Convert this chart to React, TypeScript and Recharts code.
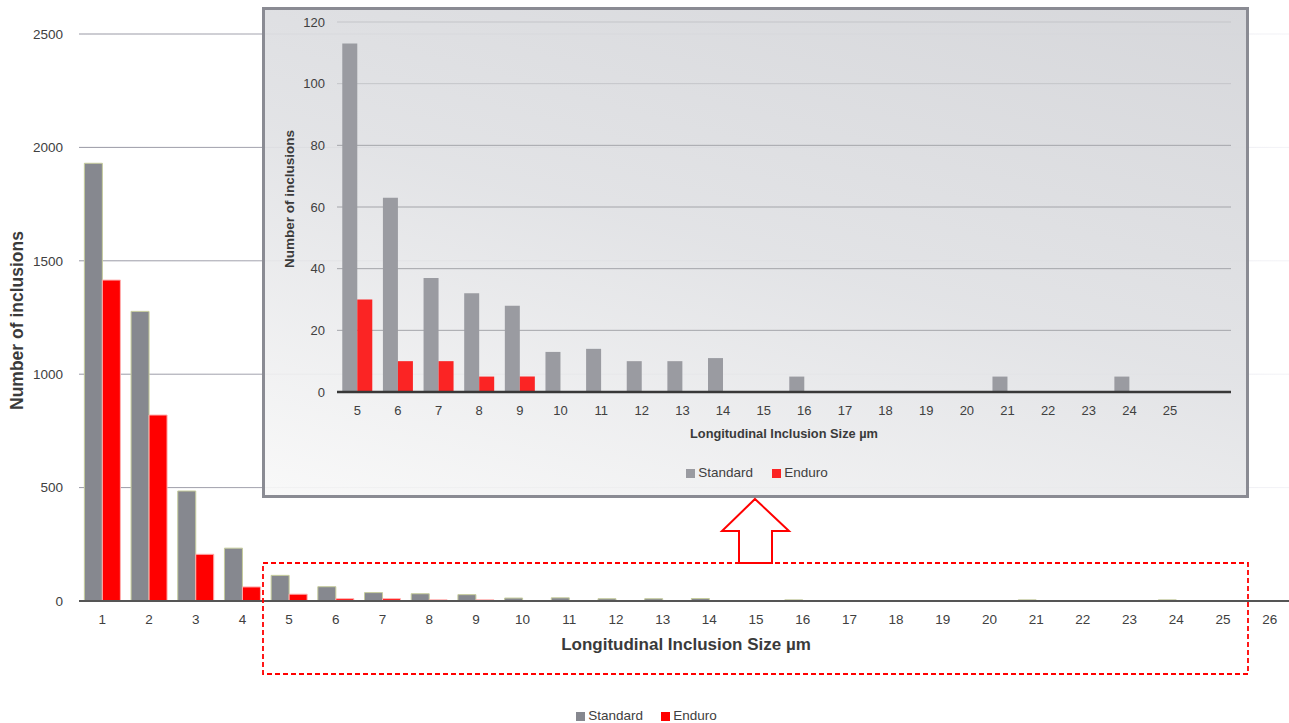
import React from 'react';
import { BarChart, Bar, XAxis, YAxis, CartesianGrid, Legend, Label } from 'recharts';

const FONT = '"Liberation Sans", Arial, Helvetica, sans-serif';

const sizeLabels = ['1', '2', '3', '4', '5', '6', '7', '8', '9', '10', '11', '12', '13', '14', '15', '16', '17', '18', '19', '20', '21', '22', '23', '24', '25', '26'];
const standardCounts = [1930, 1277, 485, 233, 113, 63, 37, 32, 28, 13, 14, 10, 10, 11, 0, 5, 0, 0, 0, 0, 5, 0, 0, 5, 0, 0];
const enduroCounts = [1415, 820, 206, 62, 30, 10, 10, 5, 5, 0, 0, 0, 0, 0, 0, 0, 0, 0, 0, 0, 0, 0, 0, 0, 0, 0];
const mainYTicks = [0, 500, 1000, 1500, 2000, 2500];
const insetYTicks = [0, 20, 40, 60, 80, 100, 120];
const insetTickLabels = ['5', '6', '7', '8', '9', '10', '11', '12', '13', '14', '15', '16', '17', '18', '19', '20', '21', '22', '23', '24', '25', ''];
const seriesOrder = ['standard', 'enduro'];
const INSET_FIRST = 4;

const mainData = sizeLabels.map((s, i) => ({ size: s, standard: standardCounts[i], enduro: enduroCounts[i] }));
const insetData = mainData.slice(INSET_FIRST).map((d, i) => ({ ...d, label: insetTickLabels[i] }));

const makeLegend = (fontSize: number, gap: number) => (props: any) => {
  const items = [...(props.payload || [])].sort(
    (a: any, b: any) => seriesOrder.indexOf(a.dataKey) - seriesOrder.indexOf(b.dataKey)
  );
  return (
    <div style={{ display: 'flex', justifyContent: 'center', alignItems: 'center', fontFamily: FONT, fontSize, color: '#404040', lineHeight: '14px', height: 14 }}>
      {items.map((it: any, i: number) => (
        <span key={i} style={{ display: 'inline-flex', alignItems: 'center', marginLeft: i ? gap : 0 }}>
          <span style={{ display: 'inline-block', width: 9, height: 9, background: it.color, marginRight: 3 }} />
          {it.value}
        </span>
      ))}
    </div>
  );
};

const mainGridLine = (p: any) => (
  <line key={`mg-${p.index}`} x1={p.x1} y1={p.y1} x2={p.x2} y2={p.y2} stroke="url(#mainGridFade)" strokeWidth={1} />
);

const insetGridLine = (p: any) => (
  <line key={`ig-${p.index}`} x1={p.x1} y1={p.y1} x2={p.x2} y2={p.y2} stroke={p.index >= 5 ? '#c4c5c9' : '#a4a5aa'} strokeWidth={1} />
);

const rotLabel = (text: string, cx: number, shift: number, size: number) => (props: any) => {
  const vb = props.viewBox || {};
  const x = (vb.x || 0) + cx;
  const y = (vb.y || 0) + (vb.height || 0) / 2 + shift;
  return (
    <text x={x} y={y} transform={`rotate(-90 ${x} ${y})`} textAnchor="middle" dominantBaseline="central"
      style={{ fontFamily: FONT, fontSize: size, fontWeight: 'bold', fill: '#3a3a3a' }}>
      {text}
    </text>
  );
};

export default function App() {
  return (
    <div style={{ position: 'absolute', left: 0, top: 0, width: 1289, height: 723, overflow: 'hidden', background: '#ffffff' }}>
      <div style={{ position: 'absolute', left: 0, top: 0 }}>
        <BarChart width={1300} height={723} data={mainData} margin={{ top: 34, right: 7, left: 0, bottom: 0 }}
          barCategoryGap="11.5%" barGap={0}>
          <defs>
            <linearGradient id="mainGridFade" gradientUnits="userSpaceOnUse" x1={79} y1={0} x2={1293} y2={0}>
              <stop offset="0" stopColor="#9898a4" />
              <stop offset="0.3" stopColor="#aeaeb8" />
              <stop offset="1" stopColor="#f3f3f7" />
            </linearGradient>
          </defs>
          <CartesianGrid vertical={false} horizontal={mainGridLine} />
          <XAxis dataKey="size" interval={0} tickLine={false} axisLine={{ stroke: '#555555', strokeWidth: 2 }}
            tickMargin={7} height={108}
            tick={{ fontFamily: FONT, fontSize: 13.5, fill: '#404040' }}>
            <Label value="Longitudinal Inclusion Size µm" position="insideTop" offset={37}
              style={{ fontFamily: FONT, fontSize: 17, fontWeight: 'bold', fill: '#3a3a3a' }} />
          </XAxis>
          <YAxis width={79} domain={[0, 2500]} ticks={mainYTicks} tickLine={false} axisLine={false} tickMargin={10}
            tick={{ fontFamily: FONT, fontSize: 13.5, fill: '#404040' }}>
            <Label content={rotLabel('Number of inclusions', 17, 3, 17.5)} />
          </YAxis>
          <Legend verticalAlign="bottom" height={14} content={makeLegend(13.5, 18)} />
          <Bar dataKey="standard" name="Standard" fill="#86888f" stroke="#c6cc9c" strokeWidth={1} isAnimationActive={false} />
          <Bar dataKey="enduro" name="Enduro" fill="#ff0000" stroke="#ffb0b0" strokeWidth={1} isAnimationActive={false} />
        </BarChart>
      </div>

      <svg style={{ position: 'absolute', left: 0, top: 0, pointerEvents: 'none' }} width={1289} height={723}>
        <rect x={263} y={563} width={985} height={111} fill="none" stroke="#ff0000" strokeWidth={1.8} strokeDasharray="5 3" />
      </svg>

      <div style={{
        position: 'absolute', left: 262, top: 7, width: 987, height: 491, boxSizing: 'border-box',
        border: '3px solid #8a8b93',
        background: 'linear-gradient(195deg, rgba(211,212,216,0.92) 0%, rgba(224,225,228,0.92) 50%, rgba(248,248,248,0.92) 100%)',
      }}>
        <BarChart width={981} height={485} data={insetData} margin={{ top: 12, right: 15, left: 0, bottom: 15 }}
          barCategoryGap="13%" barGap={0}>
          <CartesianGrid vertical={false} horizontal={insetGridLine} />
          <XAxis dataKey="label" interval={0} tickLine={false} axisLine={{ stroke: '#383838', strokeWidth: 2.5 }}
            tickMargin={8} height={74}
            tick={{ fontFamily: FONT, fontSize: 13, fill: '#404040' }}>
            <Label value="Longitudinal Inclusion Size µm" position="insideTop" offset={36.5}
              style={{ fontFamily: FONT, fontSize: 12.8, fontWeight: 'bold', fill: '#3a3a3a' }} />
          </XAxis>
          <YAxis width={72} domain={[0, 120]} ticks={insetYTicks} tickLine={false} axisLine={false} tickMargin={6}
            tick={{ fontFamily: FONT, fontSize: 13, fill: '#404040' }}>
            <Label content={rotLabel('Number of inclusions', 24, -8, 13.5)} />
          </YAxis>
          <Legend verticalAlign="bottom" height={14} content={makeLegend(13.5, 19)} wrapperStyle={{ left: 9 }} />
          <Bar dataKey="standard" name="Standard" fill="#9a9ba1" isAnimationActive={false} />
          <Bar dataKey="enduro" name="Enduro" fill="#fb2424" isAnimationActive={false} />
        </BarChart>
      </div>

      <svg style={{ position: 'absolute', left: 0, top: 0, pointerEvents: 'none' }} width={1289} height={723}>
        <polygon points="755,499 789,531 772,531 772,563 739,563 739,531 722,531" fill="#ffffff" stroke="#ff0000" strokeWidth={2} />
      </svg>
    </div>
  );
}
